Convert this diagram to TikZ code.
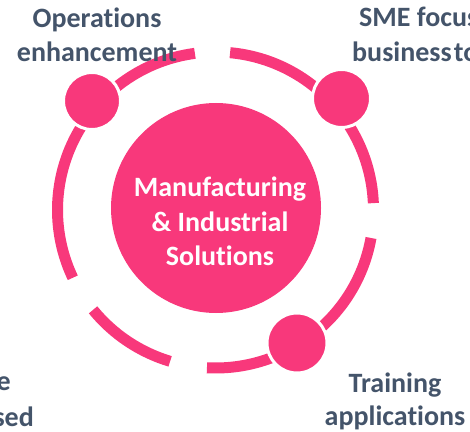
\documentclass[tikz,border=0pt]{standalone}
\usepackage{fontspec}
\setmainfont{Carlito}[Ligatures={NoCommon}]
\definecolor{ringpink}{HTML}{F8387B}
\definecolor{labelgray}{HTML}{44546A}
\tikzset{
  ringseg/.style={draw=ringpink, line width=11pt, line cap=butt},
  hub/.style={circle, fill=ringpink, inner sep=0pt},
  dot/.style={circle, fill=ringpink, draw=white, line width=3pt, inner sep=0pt},
  lbl/.style={text=labelgray, font=\fontsize{28}{34}\selectfont\bfseries, inner sep=0pt},
  hubtxt/.style={text=white, font=\fontsize{28}{34}\selectfont\bfseries, inner sep=0pt}
}
\begin{document}
\begin{tikzpicture}[x=1pt,y=1pt]
\useasboundingbox (0,0) rectangle (470,431);
\clip (0,0) rectangle (470,431);
\coordinate (ctr) at (215.5,221);
% dashed outer ring
\draw[ringseg] (ctr) ++(97.5:158pt) arc[start angle=97.5, end angle=205.4, radius=158pt];
\draw[ringseg] (ctr) ++(2.5:158pt) arc[start angle=2.5, end angle=84.7, radius=158pt];
\draw[ringseg] (ctr) ++(266.9:158pt) arc[start angle=266.9, end angle=349.8, radius=158pt];
\draw[ringseg] (ctr) ++(219.2:158pt) arc[start angle=219.2, end angle=253.3, radius=158pt];
% central hub
\node[hub, minimum size=210pt] (hub) at (216,223) {};
% small dots
\node[dot, minimum size=57pt] (dotUL) at (92,330) {};
\node[dot, minimum size=58pt] (dotUR) at (341.5,332.5) {};
\node[dot, minimum size=60pt] (dotLR) at (297,88) {};
% hub text
\node[hubtxt, anchor=base] (h1) at (220,234) {Manufacturing};
\node[hubtxt, anchor=base] (h2) at (220,199) {\& Industrial};
\node[hubtxt, anchor=base] (h3) at (220,166) {Solutions};
% labels
\node[lbl, anchor=base] (op1) at (97,403) {Operations};
\node[lbl, anchor=base] (op2) at (97,369) {enhancement};
\node[lbl, anchor=base west] (sme1) at (359,404) {SME focus};
\node[lbl, anchor=base west] (sme2) at (352,369) {business\hspace{2pt}to};
\node[lbl, anchor=base] (tr1) at (395,39) {Training};
\node[lbl, anchor=base] (tr2) at (395,6) {applications};
\node[lbl, anchor=base east] (bl1) at (11,41) {e};
\node[lbl, anchor=base east] (bl2) at (34,5) {sed};
\end{tikzpicture}
\end{document}
